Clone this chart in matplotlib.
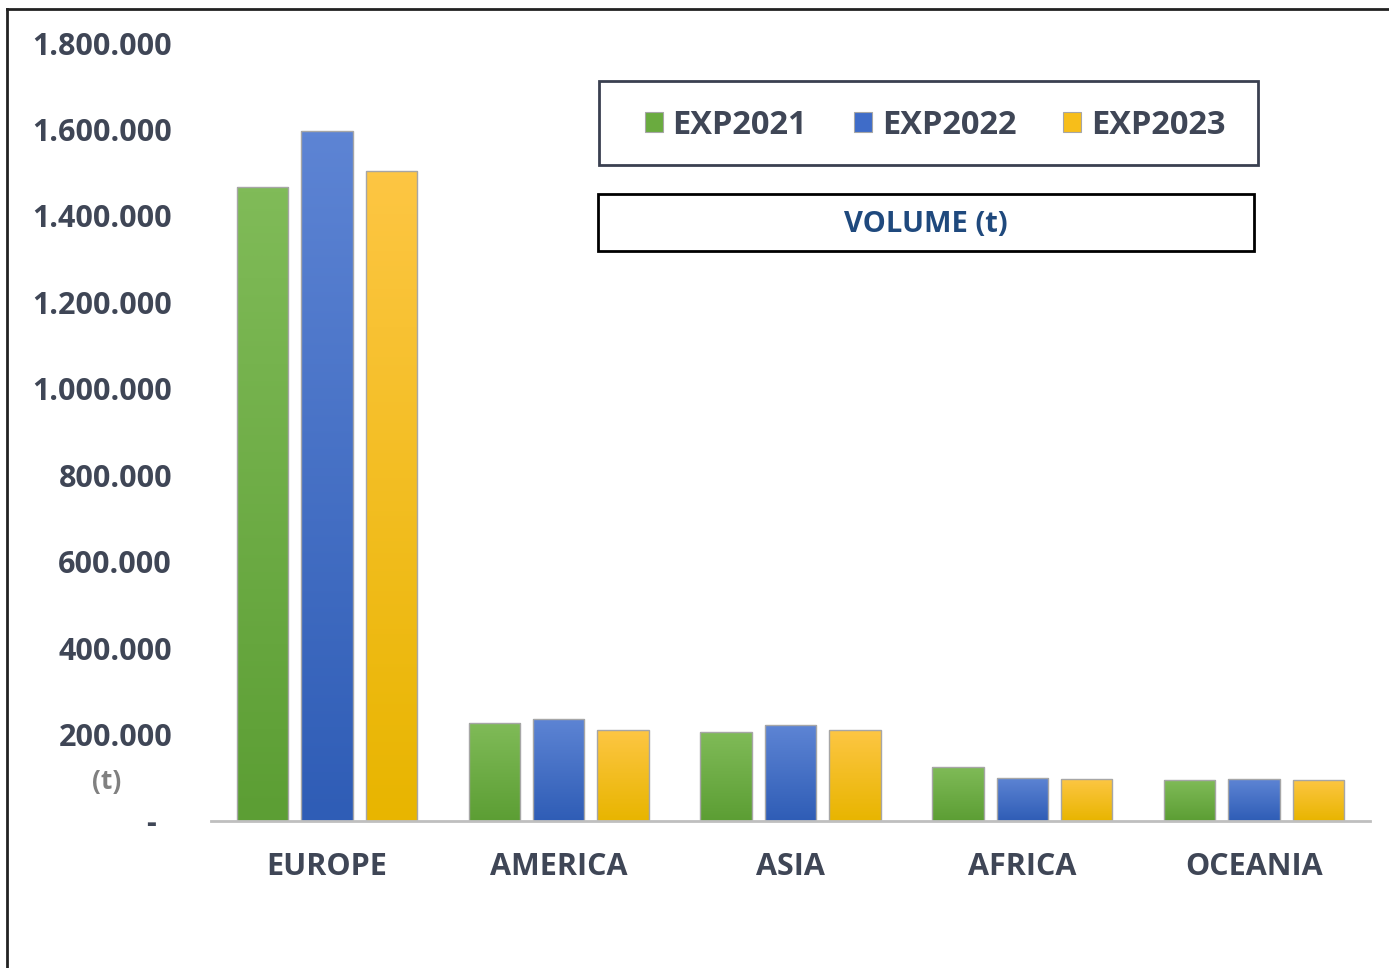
import matplotlib
matplotlib.use("Agg")
import matplotlib.pyplot as plt
import numpy as np
from matplotlib.patches import Rectangle
from matplotlib.colors import LinearSegmentedColormap
from matplotlib.lines import Line2D

categories = ["EUROPE", "AMERICA", "ASIA", "AFRICA", "OCEANIA"]
series_names = ["EXP2021", "EXP2022", "EXP2023"]
exp2021 = [1467000, 227000, 206000, 125000, 95000]
exp2022 = [1596000, 236000, 222000, 99500, 97000]
exp2023 = [1504000, 210500, 210500, 97000, 95000]
yticks = [0, 200000, 400000, 600000, 800000, 1000000, 1200000, 1400000, 1600000, 1800000]

series = [exp2021, exp2022, exp2023]
grad = [("#80bb58", "#5c9e34"), ("#5d84d4", "#2f5db6"), ("#fdc643", "#e8b500")]
solid = ["#6aab3f", "#3f6cc8", "#f7be1a"]

W, H = 1389, 968
fig = plt.figure(figsize=(W / 100, H / 100), dpi=100)
fig.patch.set_facecolor("white")
ax = fig.add_axes([211 / W, 1 - 821 / H, (1370 - 211) / W, (821 - 43) / H])

font = "Open Sans"
wt = "bold"
dark = "#3f4656"

x = np.arange(len(categories))
bw = 0.222
off = 0.278
for i, vals in enumerate(series):
    bars = ax.bar(x + (i - 1) * off, vals, bw, facecolor="none",
                  edgecolor="#a6a6a6", linewidth=1.0, zorder=3)
    cmap = LinearSegmentedColormap.from_list("g%d" % i, [grad[i][1], grad[i][0]])
    for b in bars:
        bx, bwid, bh = b.get_x(), b.get_width(), b.get_height()
        im = ax.imshow(np.linspace(0, 1, 100).reshape(-1, 1), cmap=cmap,
                       extent=(bx, bx + bwid, 0, bh), origin="lower",
                       aspect="auto", zorder=2, interpolation="bilinear")
        im.set_clip_path(b)

ax.set_xlim(-0.5, len(categories) - 0.5)
ax.set_ylim(0, 1800000)
ax.set_yticks(yticks)
ax.set_yticklabels(["-  " if v == 0 else f"{v:,}".replace(",", ".") for v in yticks],
                   fontsize=22, color=dark, fontfamily=font, fontweight=wt)
ax.set_xticks(x)
ax.set_xticklabels(categories, fontsize=22, color=dark, fontfamily=font, fontweight=wt)
ax.tick_params(axis="both", length=0)
ax.tick_params(axis="y", pad=28)
ax.tick_params(axis="x", pad=22)
for s in ["top", "right", "left"]:
    ax.spines[s].set_visible(False)
ax.spines["bottom"].set_color("#bfbfbf")
ax.spines["bottom"].set_linewidth(2)
ax.spines["bottom"].set_zorder(4)

# (t) unit label
fig.text(107 / W, 1 - 782 / H, "(t)", fontsize=19, color="#808080",
         fontfamily=font, fontweight="bold", ha="center", va="center")

# legend box
fig.patches.append(Rectangle((599 / W, 1 - 165 / H), 659 / W, 84 / H,
                             transform=fig.transFigure, facecolor="white",
                             edgecolor="#3a4050", linewidth=2, zorder=5))
handles = [Rectangle((0, 0), 1, 1, facecolor=c, edgecolor="#a6a6a6", linewidth=0.8) for c in solid]
leg = fig.legend(handles, series_names, loc="center", ncol=3,
                 bbox_to_anchor=(935 / W, 1 - 125 / H), frameon=False,
                 prop={"family": font, "weight": wt, "size": 23.5},
                 labelcolor=dark, handlelength=0.55, handleheight=0.55,
                 handletextpad=0.3, columnspacing=1.44)
leg.set_zorder(6)

# title box
fig.patches.append(Rectangle((598 / W, 1 - 251 / H), 656 / W, 57 / H,
                             transform=fig.transFigure, facecolor="white",
                             edgecolor="black", linewidth=2, zorder=5))
fig.text(926 / W, 1 - 224 / H, "VOLUME (t)", fontsize=21, color="#1f497d",
         fontfamily=font, fontweight="bold", ha="center", va="center", zorder=6)

# outer frame (partially visible)
fig.add_artist(Line2D([7 / W, 7 / W], [0, 1 - 9 / H], transform=fig.transFigure,
                      color="#222222", linewidth=2))
fig.add_artist(Line2D([7 / W, 1], [1 - 9 / H, 1 - 9 / H], transform=fig.transFigure,
                      color="#222222", linewidth=2))

fig.savefig("out.png", dpi=100)
